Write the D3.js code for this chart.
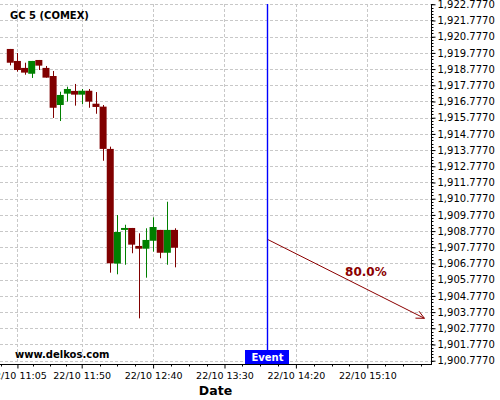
<!DOCTYPE html>
<html>
<head>
<meta charset="utf-8">
<script src="https://cdn.jsdelivr.net/npm/d3@7"></script>
<style>
  html, body { margin: 0; padding: 0; background: #fff; }
  svg { display: block; font-family: "DejaVu Sans", sans-serif; }
</style>
</head>
<body>
<svg id="chart" width="500" height="400"></svg>
<script>
// ---- data ----
const times  = ["11:00","11:05","11:10","11:15","11:20","11:25","11:30","11:35","11:40","11:45","11:50","11:55",
                "12:00","12:05","12:10","12:15","12:20","12:25","12:30","12:35","12:40","12:45","12:50","12:55"];
const opens  = [1920.02,1919.28,1918.85,1918.49,1919.34,1918.85,1918.35,1916.56,1917.26,1917.43,1917.20,1917.44,
                1916.64,1916.46,1913.85,1906.77,1908.85,1908.97,1907.86,1907.69,1908.18,1908.85,1907.44,1908.85];
const highs  = [1920.02,1919.77,1919.17,1919.28,1919.34,1918.97,1918.66,1917.38,1917.69,1917.86,1917.55,1917.55,
                1917.36,1916.56,1913.99,1909.77,1909.17,1908.97,1908.64,1908.95,1909.63,1908.85,1910.59,1908.95];
const lows   = [1919.01,1918.62,1918.43,1918.23,1918.72,1918.25,1915.76,1915.57,1916.77,1916.52,1916.62,1916.39,
                1916.02,1913.12,1906.21,1906.11,1906.70,1907.41,1903.39,1905.90,1907.51,1907.10,1906.70,1906.54];
const closes = [1919.17,1918.72,1918.56,1919.28,1918.99,1918.25,1916.39,1917.18,1917.55,1917.20,1917.44,1916.77,
                1916.44,1913.85,1906.79,1908.72,1908.97,1907.94,1907.69,1908.23,1909.03,1907.44,1908.85,1907.75];
const xTickTimes  = ["11:05","11:50","12:40","13:30","14:20","15:10"];
const xTickLabels = ["22/10 11:05","22/10 11:50","22/10 12:40","22/10 13:30","22/10 14:20","22/10 15:10"];
const yTicks = d3.range(0, 23).map(k => 1900.777 + k);
const eventTime = "14:00";
const arrowFrom = { time: "14:00", price: 1908.271 };
const arrowTo   = { time: "15:50", price: 1903.394 };
const arrowLabel = "80.0%";
const title = "GC 5 (COMEX)";
const watermark = "www.delkos.com";
const xTitle = "Date";

// ---- helpers ----
const day = "2023-10-22T";
const parseT = s => new Date(day + (s.length === 5 ? s + ":00" : s));

// ---- layout ----
const plotL = 0, plotR = 431, plotT = 4, plotB = 364;
const svg = d3.select("#chart");

const x = d3.scaleTime()
  .domain([parseT("10:52:48"), parseT("15:54:36")])
  .range([plotL, plotR]);
const y = d3.scaleLinear()
  .domain([1900.573, 1922.795])
  .range([plotB, plotT]);

// grid
const grid = svg.append("g").attr("stroke", "#c8c8c8").attr("stroke-width", 1).attr("stroke-dasharray", "3,2");
grid.selectAll("line.h").data(yTicks).join("line").attr("class", "h")
  .attr("x1", plotL).attr("x2", plotR)
  .attr("y1", d => Math.round(y(d)) + 0.5).attr("y2", d => Math.round(y(d)) + 0.5);
grid.selectAll("line.v").data(xTickTimes).join("line").attr("class", "v")
  .attr("x1", d => Math.round(x(parseT(d))) + 0.5).attr("x2", d => Math.round(x(parseT(d))) + 0.5)
  .attr("y1", plotT).attr("y2", plotB);

// candles
const candles = times.map((t, i) => ({ t: parseT(t), o: opens[i], h: highs[i], l: lows[i], c: closes[i] }));
const step = x(parseT("11:05")) - x(parseT("11:00"));
const bw = step * 0.98;
const cg = svg.append("g");
const col = d => d.c >= d.o ? "#008000" : "#800000";
cg.selectAll("line.wick").data(candles).join("line").attr("class", "wick")
  .attr("x1", d => Math.round(x(d.t)) + 0.5).attr("x2", d => Math.round(x(d.t)) + 0.5)
  .attr("y1", d => y(d.h)).attr("y2", d => y(d.l))
  .attr("stroke", col).attr("stroke-width", 1);
cg.selectAll("rect.body").data(candles).join("rect").attr("class", "body")
  .attr("x", d => x(d.t) - bw / 2)
  .attr("width", bw)
  .attr("y", d => y(Math.max(d.o, d.c)))
  .attr("height", d => Math.max(1, Math.abs(y(d.o) - y(d.c))))
  .attr("fill", col);

// arrow
const ax1 = x(parseT(arrowFrom.time)), ay1 = y(arrowFrom.price);
const ax2 = x(parseT(arrowTo.time)), ay2 = y(arrowTo.price);
const ang = Math.atan2(ay2 - ay1, ax2 - ax1);
const hl = 9, ha = 0.45;
const arr = svg.append("g").attr("stroke", "#8b0000").attr("stroke-width", 1).attr("fill", "none");
arr.append("line").attr("x1", ax1).attr("y1", ay1).attr("x2", ax2).attr("y2", ay2);
arr.append("path").attr("d", d3.line()([
  [ax2 - hl * Math.cos(ang - ha), ay2 - hl * Math.sin(ang - ha)],
  [ax2, ay2],
  [ax2 - hl * Math.cos(ang + ha), ay2 - hl * Math.sin(ang + ha)]
]));
svg.append("text")
  .attr("x", (ax1 + ax2) / 2 + 20).attr("y", (ay1 + ay2) / 2 - 3)
  .attr("text-anchor", "middle")
  .attr("font-size", 12).attr("font-weight", "bold").attr("fill", "#8b0000")
  .text(arrowLabel);

// right axis
const yAxis = d3.axisRight(y).tickValues(yTicks).tickSize(4).tickPadding(2).tickFormat(d3.format(",.4f"));
const ya = svg.append("g").attr("transform", `translate(${plotR + 0.5},0)`).call(yAxis);
ya.select(".domain").remove();
ya.selectAll("text").attr("font-size", 10).attr("font-family", "DejaVu Sans").attr("fill", "#000");
const yMinor = d3.range(0, 111).map(k => 1900.777 + k * 0.2).filter(v => v <= 1922.795);
ya.selectAll("line.minor").data(yMinor).join("line").attr("class", "minor")
  .attr("x1", 0).attr("x2", 2).attr("y1", d => Math.round(y(d)) + 0.5).attr("y2", d => Math.round(y(d)) + 0.5)
  .attr("stroke", "#000");
svg.append("line").attr("x1", plotR + 0.5).attr("x2", plotR + 0.5).attr("y1", plotT).attr("y2", plotB + 0.5)
  .attr("stroke", "#000");

// bottom axis
const xAxis = d3.axisBottom(x).tickValues(xTickTimes.map(parseT)).tickSize(4).tickPadding(4)
  .tickFormat((d, i) => xTickLabels[i]);
const xa = svg.append("g").attr("transform", `translate(0,${plotB + 0.5})`).call(xAxis);
xa.select(".domain").remove();
xa.selectAll("text").attr("font-size", 9.5).attr("font-family", "DejaVu Sans").attr("fill", "#000");
const xMinor = [];
for (let i = 0; i < xTickTimes.length - 1; i++) {
  const a = parseT(xTickTimes[i]).getTime(), b = parseT(xTickTimes[i + 1]).getTime();
  for (let k = 1; k < 4; k++) xMinor.push(new Date(a + (b - a) * k / 4));
}
{
  const a = parseT(xTickTimes[4]).getTime(), b = parseT(xTickTimes[5]).getTime();
  const last = parseT(xTickTimes[5]).getTime();
  for (let k = 1; k < 4; k++) { const v = new Date(last + (b - a) * k / 4); if (x(v) < plotR) xMinor.push(v); }
  const first = parseT(xTickTimes[0]).getTime(), s = (parseT(xTickTimes[1]).getTime() - first) / 4;
  if (x(new Date(first - s)) > 0) xMinor.push(new Date(first - s));
}
xa.selectAll("line.minor").data(xMinor).join("line").attr("class", "minor")
  .attr("x1", d => Math.round(x(d)) + 0.5).attr("x2", d => Math.round(x(d)) + 0.5)
  .attr("y1", 0).attr("y2", 2).attr("stroke", "#000");

// event line and label
const exPix = Math.round(x(parseT(eventTime)));
svg.append("rect").attr("x", exPix - 0.2).attr("y", plotT).attr("width", 1.4).attr("height", plotB - plotT)
  .attr("fill", "#0000ff");
svg.append("rect").attr("x", exPix - 22).attr("y", 350).attr("width", 44).attr("height", 14).attr("fill", "#0000ff");
svg.append("text").attr("x", exPix + 0.5).attr("y", 361).attr("text-anchor", "middle")
  .attr("font-size", 10).attr("font-weight", "bold").attr("fill", "#fff").text("Event");

svg.append("line").attr("x1", plotL).attr("x2", plotR + 1).attr("y1", plotB + 0.5).attr("y2", plotB + 0.5)
  .attr("stroke", "#000");

// texts
svg.append("text").attr("x", (plotL + plotR) / 2).attr("y", 395).attr("text-anchor", "middle")
  .attr("font-size", 12.5).attr("font-weight", "bold").text(xTitle);
svg.append("text").attr("x", 10).attr("y", 19).attr("font-size", 10).attr("font-weight", "bold").text(title);
svg.append("text").attr("x", 15).attr("y", 358).attr("font-size", 10).attr("font-weight", "bold").text(watermark);
</script>
</body>
</html>
